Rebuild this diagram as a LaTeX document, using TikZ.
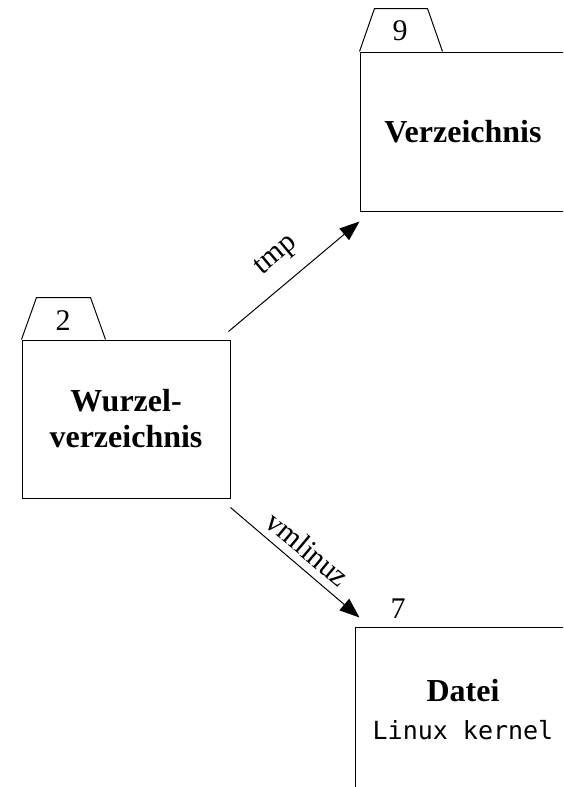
\documentclass[tikz,border=0pt]{standalone}
\usepackage{fontspec}
\setmainfont{Liberation Serif}
\setmonofont{DejaVu Sans Mono}
\usetikzlibrary{arrows.meta}
\tikzset{
  box/.style={draw, line width=1pt, rectangle, inner sep=0pt, align=center,
    font=\fontsize{32}{36}\selectfont\bfseries},
  tab/.style={draw, line width=1pt},
  tag/.style={font=\fontsize{30}{34}\selectfont, inner sep=0pt},
  link/.style={draw, line width=1pt, -{Triangle[length=20pt,width=15pt]}},
  edgelabel/.style={font=\fontsize{30}{34}\selectfont, inner sep=0pt}
}
\begin{document}
\begin{tikzpicture}[x=1pt,y=-1pt]
  \useasboundingbox (0,0) rectangle (563,787);
  \clip (0,0) rectangle (563,787);
  % directories and the file
  \node[box, minimum width=208pt, minimum height=158pt] (root) at (126,419) {Wurzel-\\verzeichnis};
  \node[box, minimum width=206pt, minimum height=159pt] (dir) at (463,131.5) {Verzeichnis};
  \node[box, minimum width=216pt, minimum height=165pt] (file) at (463,709.5)
    {Datei\\[2pt]{\mdseries\ttfamily\fontsize{25}{30}\selectfont Linux kernel}};
  % folder tabs
  \draw[tab] (root.north west) -- ++(15,-42) -- ++(54,0) -- ([xshift=84pt]root.north west);
  \draw[tab] (dir.north west) -- ++(15,-43) -- ++(53,0) -- ([xshift=83pt]dir.north west);
  % inode numbers
  \node[tag] (n2) at (63,321) {2};
  \node[tag] (n9) at (400,31) {9};
  \node[tag] (n7) at (398,609) {7};
  % directory entries
  \draw[link] ([shift={(-2,-8)}]root.north east) -- ([shift={(0,10)}]dir.south west);
  \draw[link] ([shift={(0,9)}]root.south east) -- ([shift={(5,-9)}]file.north west);
  \node[edgelabel, rotate=40] (ltmp) at (277,256) {tmp};
  \node[edgelabel, rotate=-40] (lvm) at (308,549) {vmlinuz};
\end{tikzpicture}
\end{document}
